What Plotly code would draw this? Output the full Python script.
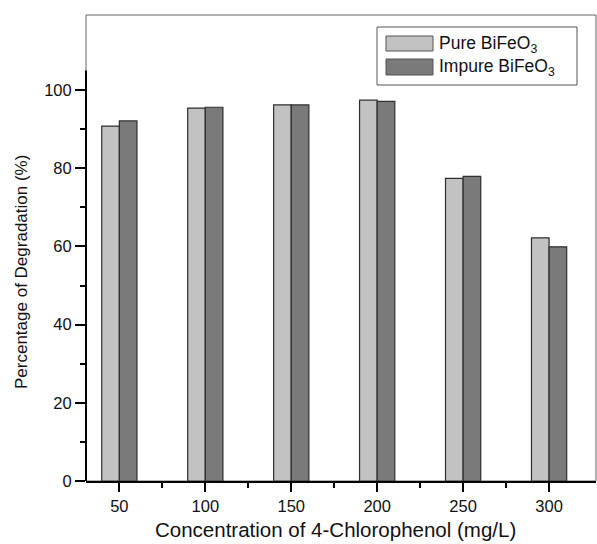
import plotly.graph_objects as go

concentrations = [50, 100, 150, 200, 250, 300]
pure_bifeo3 = [90.8, 95.4, 96.2, 97.4, 77.4, 62.2]
impure_bifeo3 = [92.1, 95.6, 96.2, 97.1, 77.9, 59.9]
series_names = ["Pure BiFeO<sub>3</sub>", "Impure BiFeO<sub>3</sub>"]
y_ticks = [0, 20, 40, 60, 80, 100]

FONT = "Liberation Sans, Arial, sans-serif"
C_PURE = "#c2c2c2"
C_IMP = "#7a7a7a"
EDGE = "#2e2e2e"

fig = go.Figure()
fig.add_bar(x=concentrations, y=pure_bifeo3, name=series_names[0],
            marker=dict(color=C_PURE, line=dict(color=EDGE, width=1.2)), showlegend=False)
fig.add_bar(x=concentrations, y=impure_bifeo3, name=series_names[1],
            marker=dict(color=C_IMP, line=dict(color=EDGE, width=1.2)), showlegend=False)

shapes = [
    # thin frame
    dict(type="rect", xref="paper", yref="paper", x0=0, y0=0, x1=1, y1=1,
         line=dict(color="#666666", width=1), layer="below"),
    # thick left axis up to 105
    dict(type="line", xref="paper", yref="y", x0=0, x1=0, y0=0, y1=105,
         line=dict(color="black", width=2)),
]
# custom legend (box + swatches), in pixel-derived paper coordinates
W, H, L, B = 510, 466, 86, 481
def px(x):
    return (x - L) / W
def py(y):
    return (B - y) / H
shapes.append(dict(type="rect", xref="paper", yref="paper", x0=px(377), x1=px(577),
                   y0=py(85), y1=py(27), line=dict(color="#555555", width=1),
                   fillcolor="white"))
shapes.append(dict(type="rect", xref="paper", yref="paper", x0=px(386), x1=px(433),
                   y0=py(51), y1=py(36), line=dict(color="#555555", width=1),
                   fillcolor=C_PURE))
shapes.append(dict(type="rect", xref="paper", yref="paper", x0=px(386), x1=px(433),
                   y0=py(75), y1=py(59), line=dict(color="#555555", width=1),
                   fillcolor=C_IMP))

annotations = [
    dict(text=series_names[0], xref="paper", yref="paper", x=px(437), y=py(44),
         xanchor="left", yanchor="middle", showarrow=False,
         font=dict(family=FONT, size=17.5, color="#111")),
    dict(text=series_names[1], xref="paper", yref="paper", x=px(437), y=py(68),
         xanchor="left", yanchor="middle", showarrow=False,
         font=dict(family=FONT, size=17.5, color="#111")),
    dict(text="Concentration of 4-Chlorophenol (mg/L)", xref="paper", yref="paper",
         x=px(335), y=py(529), xanchor="center", yanchor="middle", showarrow=False,
         font=dict(family=FONT, size=20.5, color="#111")),
    dict(text="Percentage of Degradation (%)", xref="paper", yref="paper",
         x=px(22), y=py(272), xanchor="center", yanchor="middle", showarrow=False,
         textangle=-90, font=dict(family=FONT, size=17, color="#111")),
]

fig.update_layout(
    width=597, height=544,
    margin=dict(l=86, r=1, t=15, b=63),
    paper_bgcolor="white", plot_bgcolor="white",
    barmode="group", bargap=0.59, bargroupgap=0,
    shapes=shapes, annotations=annotations,
    font=dict(family=FONT, size=16, color="#111"),
    xaxis=dict(range=[30.6, 327.3], tickmode="array", tickvals=concentrations,
               ticks="outside", ticklen=9, tickwidth=1.5, tickcolor="black",
               showline=True, linecolor="black", linewidth=2, showgrid=False,
               zeroline=False, tickfont=dict(size=16.5),
               minor=dict(tickvals=[75, 125, 175, 225, 275], ticks="outside",
                          ticklen=5, tickwidth=1.5, tickcolor="black")),
    yaxis=dict(range=[0, 119.2], tickmode="array", tickvals=y_ticks,
               ticks="outside", ticklen=10, tickwidth=1.5, tickcolor="black",
               showline=False, showgrid=False, zeroline=False, tickfont=dict(size=16.5),
               minor=dict(tickvals=[10, 30, 50, 70, 90], ticks="outside",
                          ticklen=5, tickwidth=1.5, tickcolor="black")),
)

fig.write_html("out.html")
